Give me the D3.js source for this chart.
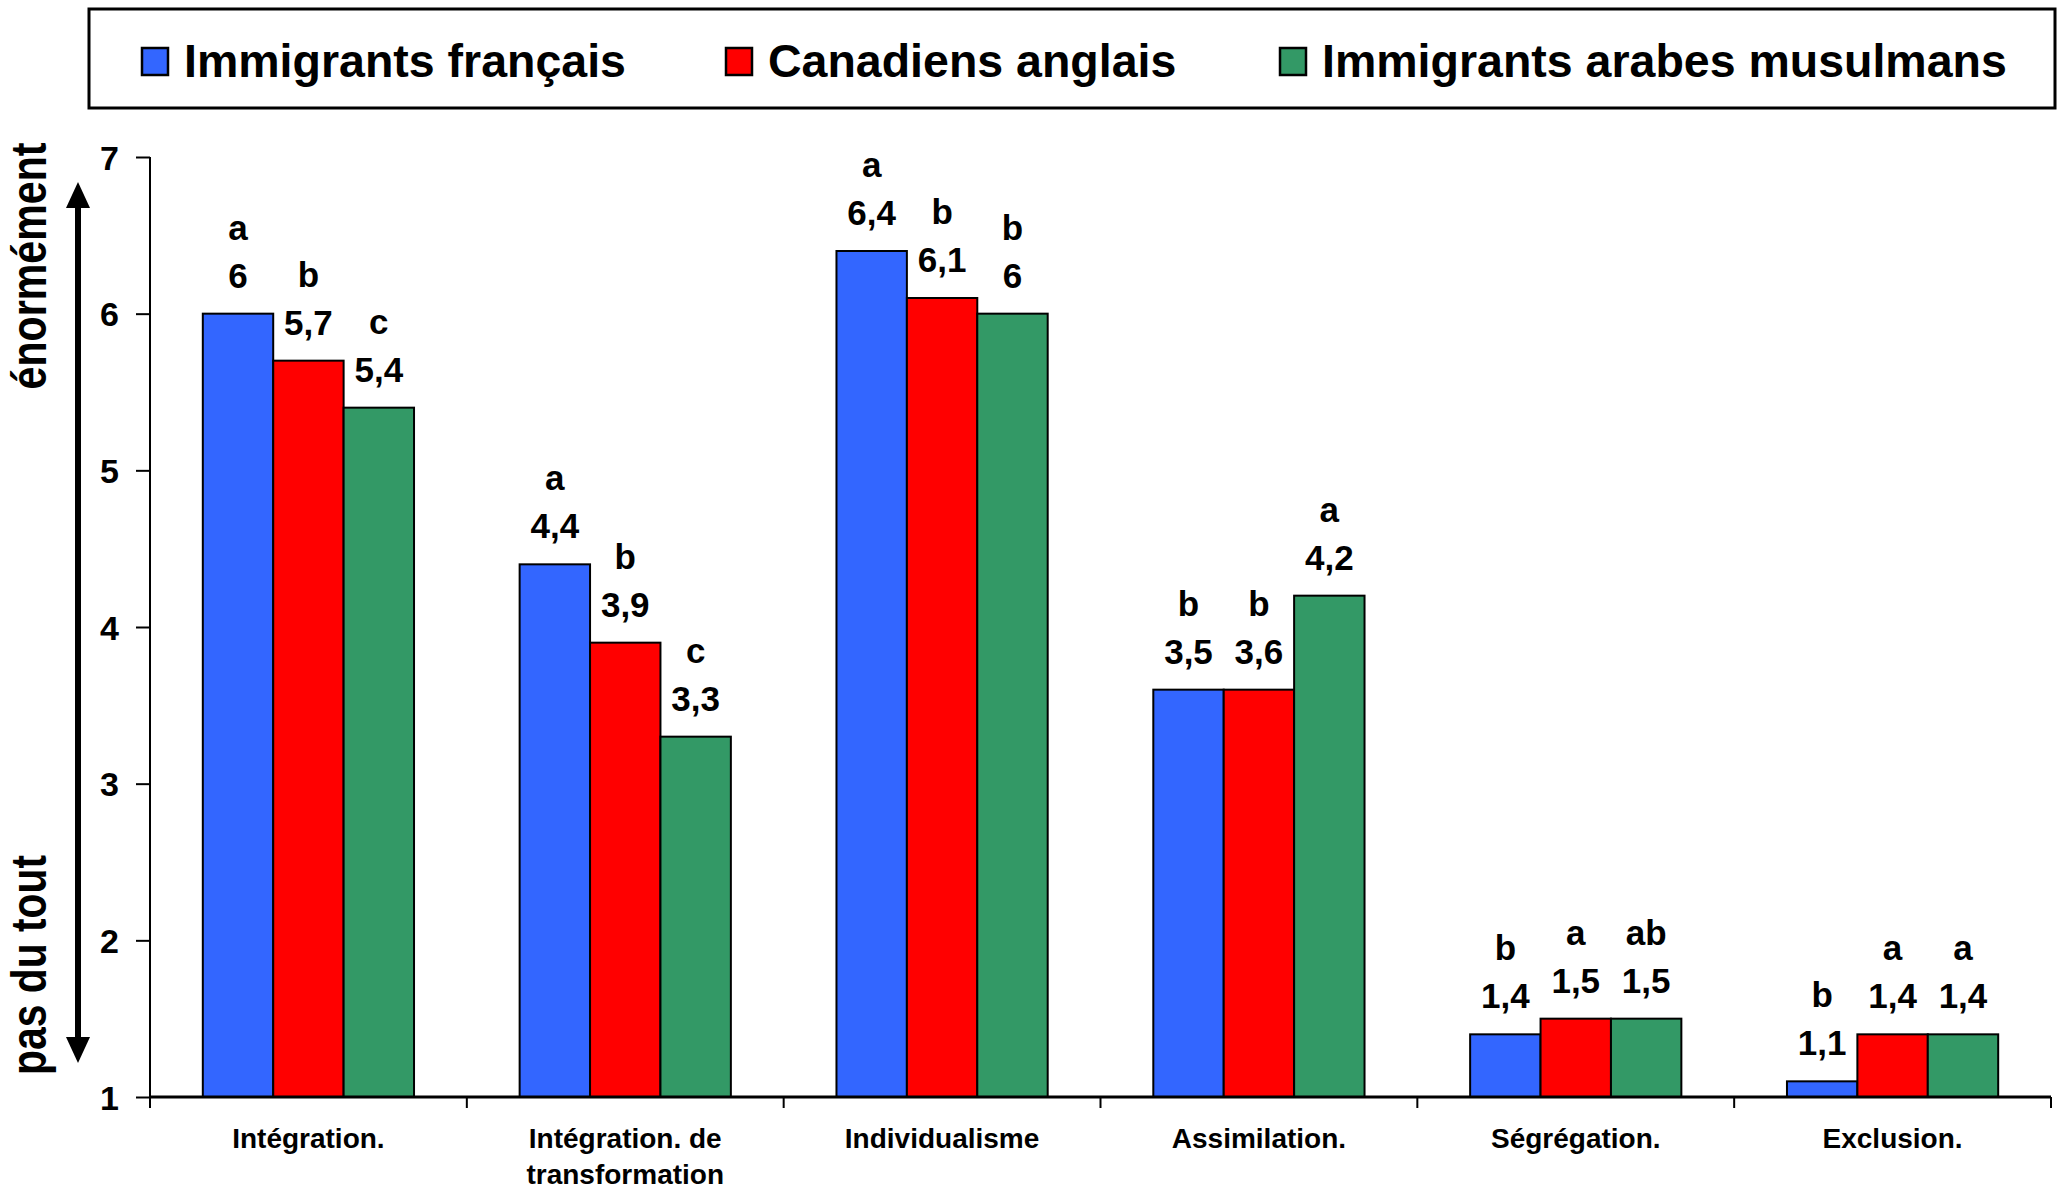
<!DOCTYPE html>
<html><head><meta charset="utf-8">
<script src="https://cdn.jsdelivr.net/npm/d3@7"></script>
<style>
html,body{margin:0;padding:0;background:#fff;}
text{font-family:"Liberation Sans",Arial,sans-serif;font-weight:bold;fill:#000;}
</style></head>
<body>
<svg id="chart" width="2064" height="1190"></svg>
<script>
const categories = ["Intégration.", "Intégration. de\ntransformation", "Individualisme", "Assimilation.", "Ségrégation.", "Exclusion."];
const seriesNames = ["Immigrants français", "Canadiens anglais", "Immigrants arabes musulmans"];
const seriesColors = ["#3366FF", "#FF0000", "#339966"];
const francais = [6, 4.4, 6.4, 3.6, 1.4, 1.1];
const anglais = [5.7, 3.9, 6.1, 3.6, 1.5, 1.4];
const arabes = [5.4, 3.3, 6, 4.2, 1.5, 1.4];
const francaisLabels = ["6", "4,4", "6,4", "3,5", "1,4", "1,1"];
const anglaisLabels = ["5,7", "3,9", "6,1", "3,6", "1,5", "1,4"];
const arabesLabels = ["5,4", "3,3", "6", "4,2", "1,5", "1,4"];
const francaisLetters = ["a", "a", "a", "b", "b", "b"];
const anglaisLetters = ["b", "b", "b", "b", "a", "a"];
const arabesLetters = ["c", "c", "b", "a", "ab", "a"];
const yTicks = [1, 2, 3, 4, 5, 6, 7];
const yTitleTop = "énormément";
const yTitleBottom = "pas du tout";

(function(){
const values = [francais, anglais, arabes];
const valueLabels = [francaisLabels, anglaisLabels, arabesLabels];
const letters = [francaisLetters, anglaisLetters, arabesLetters];

const svg = d3.select("#chart");
const pL = 150, pR = 2051, pT = 157, pB = 1097;

const x = d3.scaleBand().domain(categories).range([pL, pR]).paddingInner(0).paddingOuter(0);
const bw = x.bandwidth();
const xs = d3.scaleBand().domain([0,1,2]).range([bw/6, bw*5/6]).padding(0);
const y = d3.scaleLinear().domain([1, 7]).range([pB, pT]);

// bars
const g = svg.append("g");
categories.forEach((c, ci) => {
  [0,1,2].forEach(si => {
    const v = values[si][ci];
    const bx = x(c) + xs(si);
    g.append("rect")
      .attr("x", bx).attr("y", y(v))
      .attr("width", xs.bandwidth()).attr("height", y(1) - y(v))
      .attr("fill", seriesColors[si]).attr("stroke", "#000").attr("stroke-width", 2);
    const cx = bx + xs.bandwidth()/2;
    g.append("text").attr("x", cx).attr("y", y(v) - 26)
      .attr("text-anchor", "middle").attr("font-size", 35).text(valueLabels[si][ci]);
    g.append("text").attr("x", cx).attr("y", y(v) - 74)
      .attr("text-anchor", "middle").attr("font-size", 35).text(letters[si][ci]);
  });
});

// y axis
const yAxis = svg.append("g").attr("transform", `translate(${pL},0)`)
  .call(d3.axisLeft(y).tickValues(yTicks).tickFormat(d3.format("d")).tickSize(14).tickPadding(17));
yAxis.select(".domain").attr("stroke", "#000").attr("stroke-width", 2).attr("d", `M0,${pT}V${pB}`);
yAxis.selectAll(".tick line").attr("stroke", "#000").attr("stroke-width", 2);
yAxis.selectAll(".tick text").attr("font-size", 34).attr("font-family", "Liberation Sans").attr("font-weight", "bold").attr("dy", "0.36em");

// x axis
const xAxisG = svg.append("g").attr("transform", `translate(0,${pB})`);
xAxisG.append("line").attr("x1", pL).attr("x2", pR).attr("y1", 0).attr("y2", 0)
  .attr("stroke", "#000").attr("stroke-width", 3);
const boundaries = categories.map(c => x(c)).concat([pR]);
xAxisG.selectAll("line.tk").data(boundaries).enter().append("line")
  .attr("class", "tk").attr("x1", d => d).attr("x2", d => d).attr("y1", 0).attr("y2", 11)
  .attr("stroke", "#000").attr("stroke-width", 2);
categories.forEach(c => {
  const lines = c.split("\n");
  const t = xAxisG.append("text").attr("text-anchor", "middle").attr("font-size", 28)
    .attr("x", x(c) + bw/2).attr("y", 51);
  lines.forEach((ln, i) => {
    t.append("tspan").attr("x", x(c) + bw/2).attr("dy", i === 0 ? 0 : 36).text(ln);
  });
});

// y titles and arrow
svg.append("text").attr("transform", "translate(46,266) rotate(-90)")
  .attr("text-anchor", "middle").attr("font-size", 50)
  .attr("textLength", 247).attr("lengthAdjust", "spacingAndGlyphs").text(yTitleTop);
svg.append("text").attr("transform", "translate(46,965) rotate(-90)")
  .attr("text-anchor", "middle").attr("font-size", 50)
  .attr("textLength", 220).attr("lengthAdjust", "spacingAndGlyphs").text(yTitleBottom);
const ax = 78;
svg.append("line").attr("x1", ax).attr("x2", ax).attr("y1", 200).attr("y2", 1045)
  .attr("stroke", "#000").attr("stroke-width", 6);
svg.append("path").attr("d", `M${ax},182 L${ax-12},208 L${ax+12},208 Z`).attr("fill", "#000");
svg.append("path").attr("d", `M${ax},1063 L${ax-12},1037 L${ax+12},1037 Z`).attr("fill", "#000");

// legend
svg.append("rect").attr("x", 89).attr("y", 9).attr("width", 1966).attr("height", 99)
  .attr("fill", "#fff").attr("stroke", "#000").attr("stroke-width", 3);
const legendX = [142, 726, 1280];
seriesNames.forEach((n, i) => {
  svg.append("rect").attr("x", legendX[i]).attr("y", 48).attr("width", 26).attr("height", 27)
    .attr("fill", seriesColors[i]).attr("stroke", "#000").attr("stroke-width", 2.5);
  svg.append("text").attr("x", legendX[i] + 42).attr("y", 77).attr("font-size", 46.5).text(n);
});
})();
</script>
</body></html>
